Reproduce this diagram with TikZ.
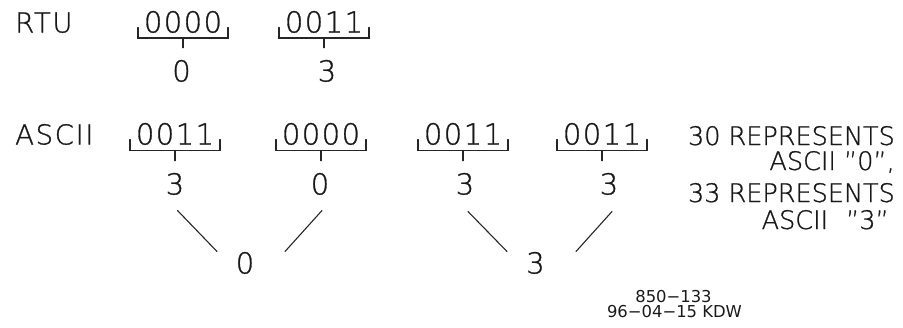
\documentclass[tikz,border=0pt]{standalone}
\usepackage{fontspec}
\newfontfamily\cadfont{DejaVu Sans ExtraLight}[FakeBold=1]
\newfontfamily\caddig{DejaVu Sans ExtraLight}[LetterSpace=5,FakeBold=1]
\newfontfamily\cadwide{DejaVu Sans ExtraLight}[LetterSpace=6,FakeBold=1]
\newfontfamily\stampfont{DejaVu Sans}
\begin{document}
\begin{tikzpicture}[x=1pt,y=-1pt,
  ln/.style={line width=1.1pt, draw=black!85, line cap=round},
  lbl/.style={inner sep=0pt, anchor=base west, text=black!90, font=\fontsize{27.5}{30}\cadwide},
  bits/.style={inner sep=0pt, anchor=base, text=black!90, font=\fontsize{29}{30}\caddig},
  dig/.style={inner sep=0pt, anchor=base, text=black!90, font=\fontsize{29}{30}\cadfont},
  note/.style={inner sep=0pt, anchor=base east, text=black!90, font=\fontsize{25.5}{28}\cadfont},
  stamp/.style={inner sep=0pt, anchor=base, text=black!90, font=\fontsize{16.4}{18}\stampfont},
  brk/.style={ln},
  stem/.style={ln, shorten >=12pt}]
\useasboundingbox (0,0) rectangle (903,327);

% ---------- RTU row ----------
\node[lbl] (rtu) at (15,32.5) {RTU};
\node[bits] (r1) at (183,32.5) {0000};
\node[bits] (r2) at (324,32.5) {0011};
\node[dig] (r1d) at (181.5,81.5) {0};
\node[dig] (r2d) at (327,81.5) {3};

\draw[brk] ([shift={(-45,-5)}]r1.base) -- ++(0,10.5) -- ++(90,0) -- ++(0,-10.5);
\draw[brk] ([shift={(-45,-5)}]r2.base) -- ++(0,10.5) -- ++(90,0) -- ++(0,-10.5);
\coordinate (r1m) at ([shift={(0,5.5)}]r1.base);
\coordinate (r2m) at ([shift={(0,5.5)}]r2.base);
\draw[stem] (r1m) -- (r1m |- r1d.north);
\draw[stem] (r2m) -- (r2m |- r2d.north);

% ---------- ASCII row ----------
\node[lbl] (asc) at (15,144.5) {ASCII};
\node[bits] (a1) at (175,144.5) {0011};
\node[bits] (a2) at (321,144.5) {0000};
\node[bits] (a3) at (463,144.5) {0011};
\node[bits] (a4) at (602,144.5) {0011};
\node[dig] (a1d) at (175,194.5) {3};
\node[dig] (a2d) at (320,194.5) {0};
\node[dig] (a3d) at (465,194.5) {3};
\node[dig] (a4d) at (609,194.5) {3};

\foreach \n in {a1,a2,a3,a4}{
  \draw[brk] ([shift={(-45,-5)}]\n.base) -- ++(0,11) -- ++(90,0) -- ++(0,-11);
  \coordinate (\n m) at ([shift={(0,6)}]\n.base);
}
\draw[stem] (a1m) -- (a1m |- a1d.north);
\draw[stem] (a2m) -- (a2m |- a2d.north);
\draw[stem] (a3m) -- (a3m |- a3d.north);
\draw[stem] (a4m) -- (a4m |- a4d.north);

% ---------- combined characters ----------
\node[dig] (b1) at (245,273.5) {0};
\node[dig] (b2) at (535.5,273.5) {3};
\draw[ln] ([shift={(2.5,16)}]a1d.base) -- ([shift={(-28,-22)}]b1.base);
\draw[ln] ([shift={(2,16)}]a2d.base) -- ([shift={(40,-22)}]b1.base);
\draw[ln] ([shift={(3,17)}]a3d.base) -- ([shift={(-28.5,-22)}]b2.base);
\draw[ln] ([shift={(3,17)}]a4d.base) -- ([shift={(40.5,-22)}]b2.base);

% ---------- note ----------
\node[note] (n1) at (895,145) {30 REPRESENTS};
\node[note] (n2) at (895,170) {ASCII ”0”,};
\node[note] (n3) at (895,202) {33 REPRESENTS};
\node[note] (n4) at (889,229) {ASCII\hspace{18pt}”3”};

% ---------- stamp ----------
\node[stamp] (s1) at (673.5,302) {850−133};
\node[stamp] (s2) at (674.5,317) {96−04−15 KDW};
\end{tikzpicture}
\end{document}
